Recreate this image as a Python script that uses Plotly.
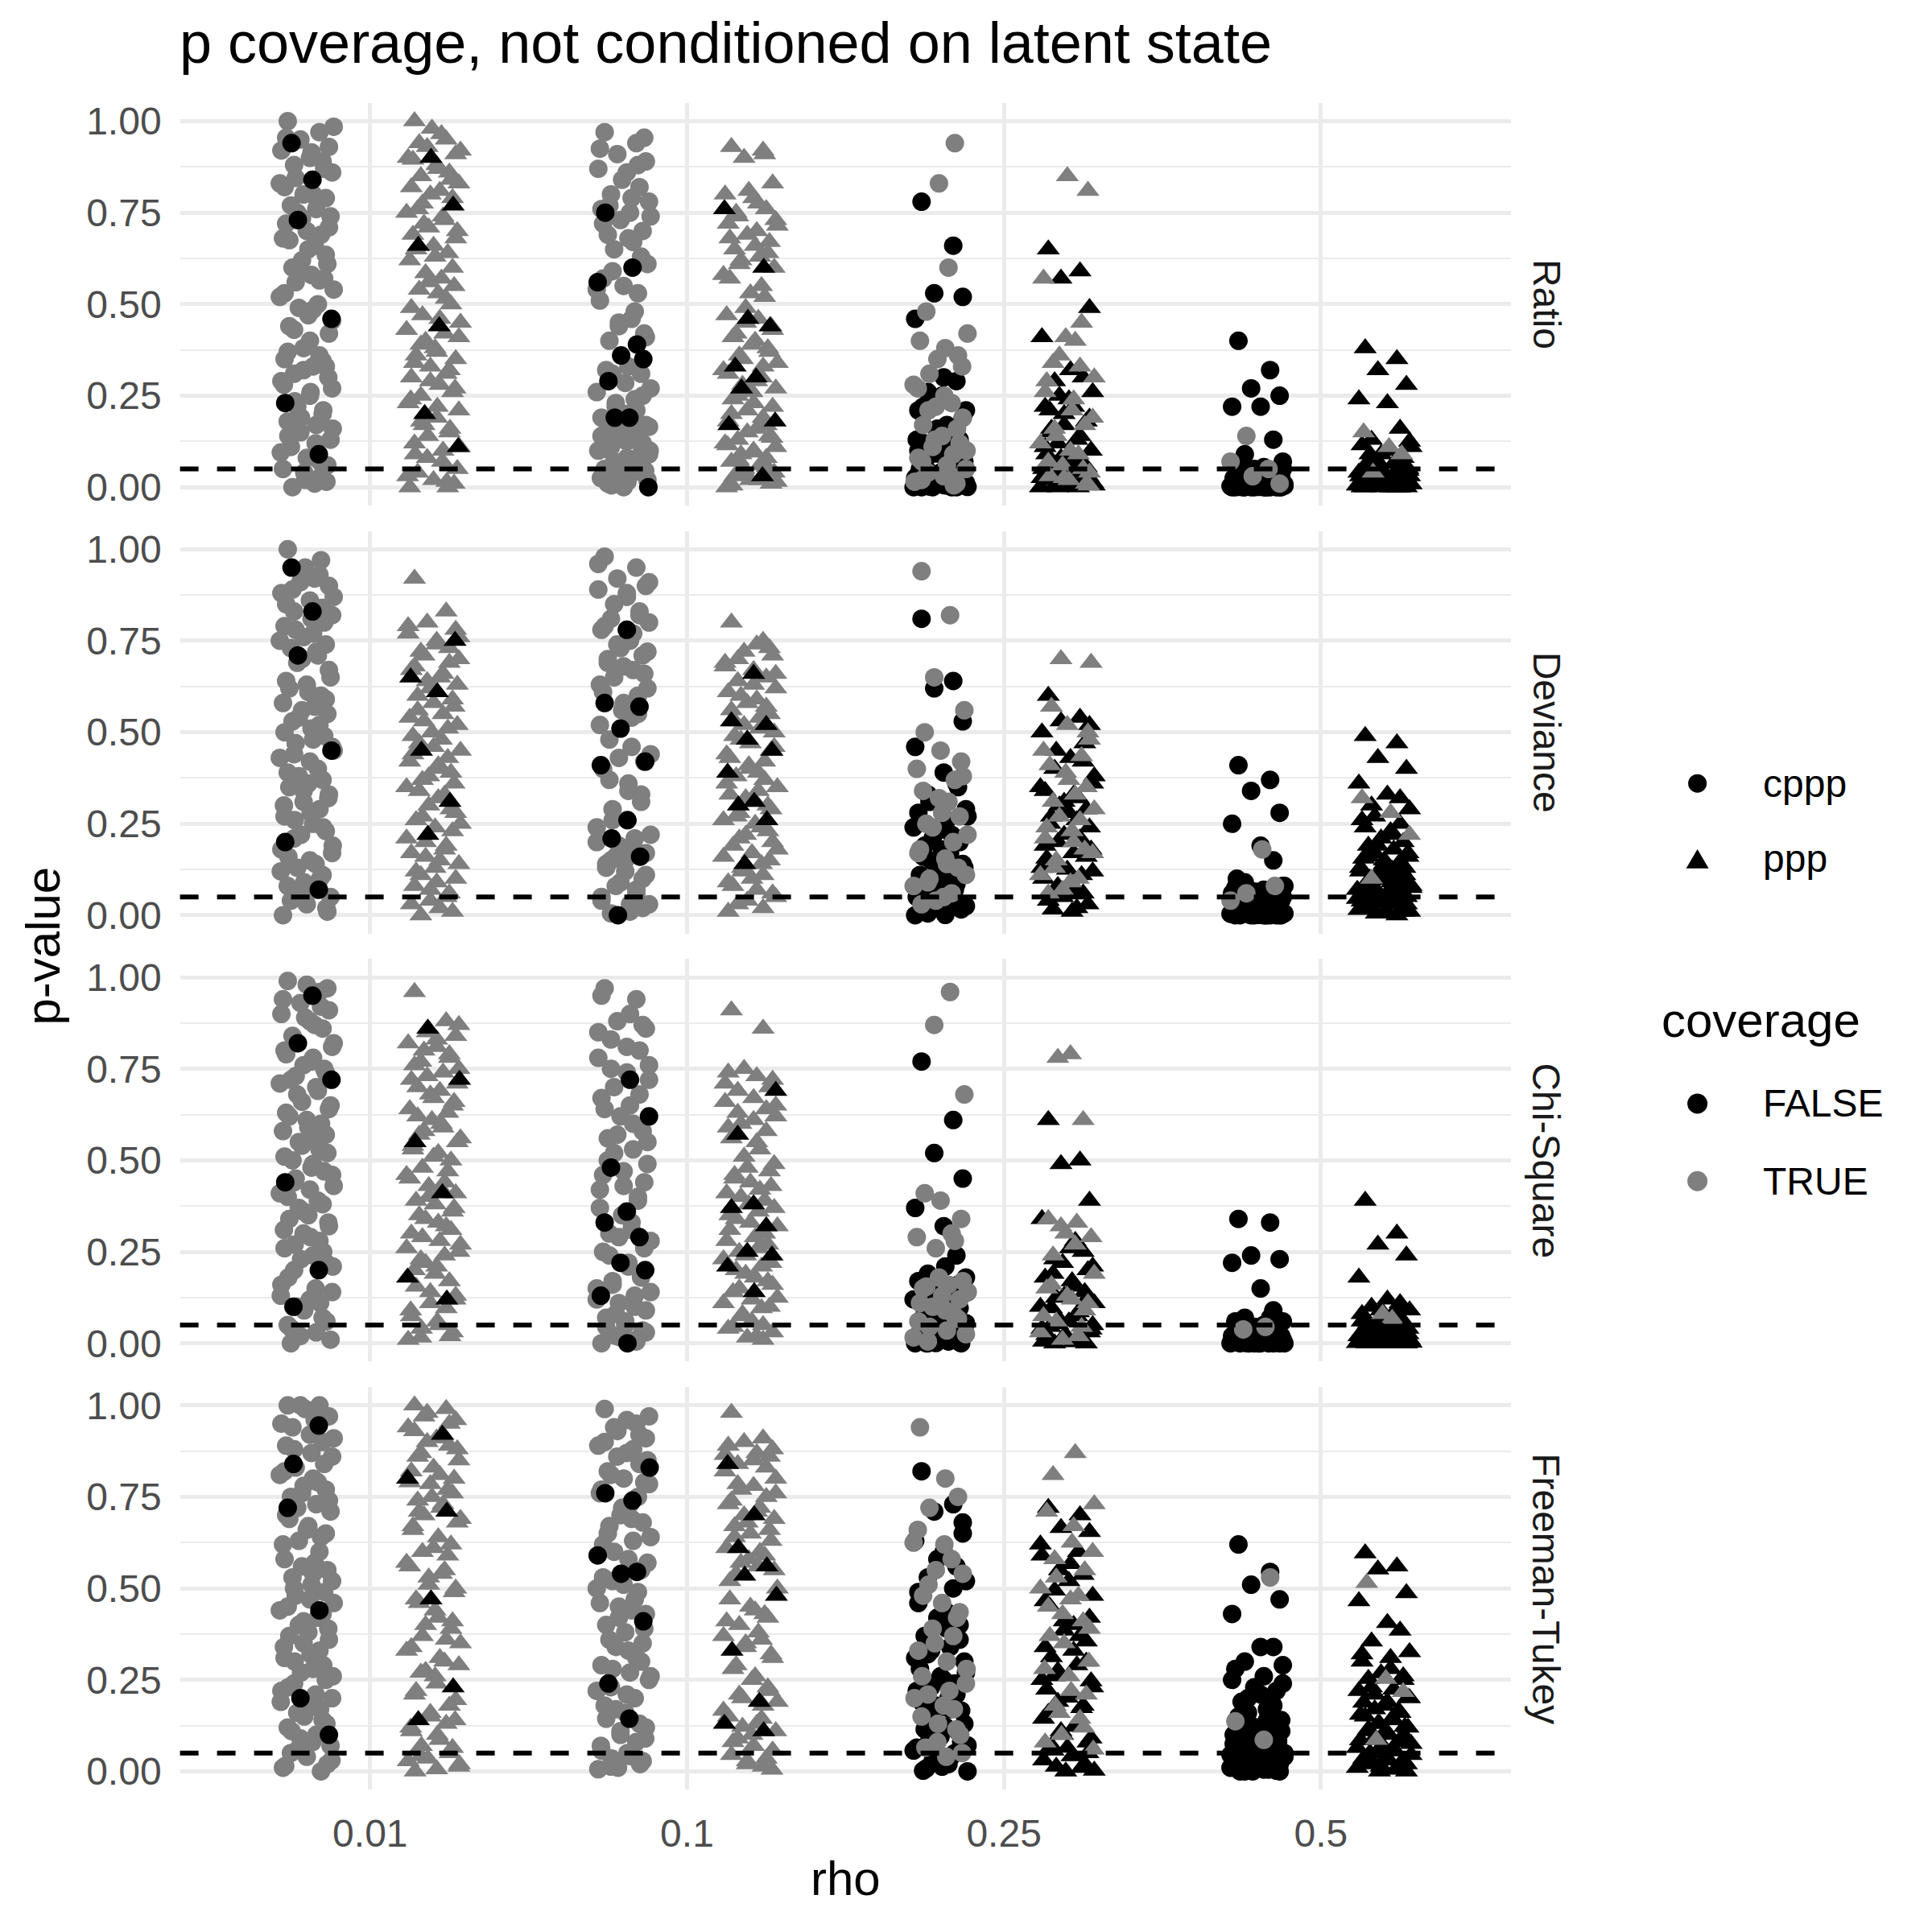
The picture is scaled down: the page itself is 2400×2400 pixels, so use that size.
import plotly.graph_objects as go

# ---------------- data ----------------
facets = ["Ratio", "Deviance", "Chi-Square", "Freeman-Tukey"]
rho_labels = ["0.01", "0.1", "0.25", "0.5"]
stat_types = ["cppp", "ppp"]
coverage_labels = ["FALSE", "TRUE"]
y_ticks = [0, 0.25, 0.5, 0.75, 1.0]
y_tick_text = ["0.00", "0.25", "0.50", "0.75", "1.00"]
y_minor = [0.125, 0.375, 0.625, 0.875]
threshold = 0.05

# jitter offsets (in category units) read as typical horizontal scatter
jitter = [-0.06, 0.04, -0.02, 0.07, -0.08, 0.01, 0.05, -0.04, 0.08, -0.07, 0.02, -0.01, 0.06, -0.05,
          0.03, -0.03, 0.075, -0.065, 0.0, 0.045, -0.075, 0.025, -0.015, 0.065, -0.045, 0.015, 0.055,
          -0.035, 0.085, -0.085, 0.035, -0.025, 0.005, -0.055, 0.07, -0.01, 0.04, -0.07, 0.02, 0.06,
          -0.04, -0.08, 0.08, 0.01, -0.03, 0.05, -0.06, 0.03, -0.02, 0.075, -0.05, 0.0, 0.065, -0.075,
          0.045, -0.005, 0.025, -0.045, 0.085, -0.065, 0.015, 0.055, -0.035, -0.085, 0.035, -0.015,
          0.07, -0.055, 0.005, 0.06, -0.025, 0.04, -0.07, 0.02, 0.08, -0.04, 0.01, -0.06, 0.05, -0.01,
          0.068, -0.072, 0.012, -0.038, 0.052, -0.018, 0.082, -0.058, 0.028, -0.082, 0.042, -0.008,
          0.062, -0.048, 0.018, -0.028, 0.078, -0.068, 0.038, -0.042]

# ---- Ratio ----
R1c_F = [0.94, 0.84, 0.73, 0.46, 0.23, 0.09]
R1c_T = [1.00, 0.97, 0.95, 0.93, 0.92, 0.90, 0.89, 0.88, 0.86, 0.82, 0.80, 0.80, 0.79, 0.77, 0.76, 0.75, 0.74,
         0.72, 0.70, 0.69, 0.68, 0.66, 0.62, 0.61, 0.60, 0.58, 0.57, 0.56, 0.54, 0.52, 0.50, 0.49, 0.47, 0.44,
         0.42, 0.38, 0.36, 0.35, 0.33, 0.33, 0.31, 0.29, 0.27, 0.25, 0.22, 0.20, 0.18, 0.17, 0.15, 0.13, 0.11,
         0.08, 0.06, 0.05, 0.03, 0.02, 0.01, 0.00,
         0.985, 0.955, 0.915, 0.87, 0.845, 0.83, 0.78, 0.735, 0.71, 0.675, 0.65, 0.635, 0.595, 0.565, 0.53,
         0.485, 0.455, 0.43, 0.40, 0.37, 0.345, 0.32, 0.30, 0.28, 0.26, 0.235, 0.21, 0.19, 0.16, 0.14, 0.12,
         0.095, 0.07, 0.04, 0.015]
R1p_F = [0.90, 0.77, 0.66, 0.44, 0.20, 0.11]
R1p_T = [1.00, 0.95, 0.93, 0.91, 0.90, 0.88, 0.86, 0.85, 0.83, 0.82, 0.81, 0.80, 0.79, 0.76, 0.74, 0.72, 0.70,
         0.69, 0.66, 0.64, 0.62, 0.57, 0.56, 0.55, 0.54, 0.53, 0.50, 0.47, 0.45, 0.43, 0.42, 0.40, 0.38, 0.36,
         0.35, 0.33, 0.31, 0.30, 0.28, 0.26, 0.25, 0.23, 0.21, 0.19, 0.17, 0.15, 0.12, 0.10, 0.08, 0.05, 0.04,
         0.02, 0.01, 0.00, 0.00,
         0.98, 0.965, 0.94, 0.92, 0.895, 0.87, 0.84, 0.775, 0.75, 0.73, 0.71, 0.68, 0.65, 0.63, 0.60, 0.585,
         0.515, 0.49, 0.46, 0.41, 0.39, 0.37, 0.34, 0.32, 0.29, 0.27, 0.24, 0.22, 0.18, 0.16, 0.14, 0.11,
         0.09, 0.07, 0.03, 0.015]
R2c_F = [0.75, 0.60, 0.56, 0.39, 0.36, 0.35, 0.29, 0.19, 0.19, 0.00]
R2c_T = [0.97, 0.94, 0.91, 0.89, 0.87, 0.86, 0.82, 0.80, 0.78, 0.76, 0.75, 0.73, 0.70, 0.69, 0.67, 0.65, 0.61,
         0.57, 0.55, 0.53, 0.51, 0.46, 0.44, 0.42, 0.40, 0.33, 0.31, 0.31, 0.27, 0.26, 0.24, 0.22, 0.20, 0.18,
         0.17, 0.16, 0.15, 0.14, 0.13, 0.12, 0.11, 0.10, 0.09, 0.08, 0.07, 0.06, 0.05, 0.04, 0.03, 0.02, 0.01,
         0.00,
         0.955, 0.925, 0.88, 0.84, 0.79, 0.77, 0.74, 0.72, 0.68, 0.63, 0.59, 0.54, 0.48, 0.45, 0.41, 0.32,
         0.285, 0.25, 0.23, 0.21, 0.19, 0.175, 0.165, 0.145, 0.125, 0.105, 0.085, 0.065, 0.045, 0.025, 0.015,
         0.005, 0.12, 0.15, 0.10]
R2p_F = [0.76, 0.60, 0.46, 0.44, 0.33, 0.30, 0.27, 0.18, 0.17, 0.03]
R2p_T = [0.93, 0.92, 0.90, 0.83, 0.80, 0.79, 0.76, 0.74, 0.73, 0.72, 0.70, 0.69, 0.67, 0.65, 0.63, 0.62, 0.60,
         0.57, 0.53, 0.52, 0.47, 0.46, 0.45, 0.44, 0.42, 0.40, 0.38, 0.36, 0.34, 0.32, 0.30, 0.28, 0.26, 0.24,
         0.22, 0.21, 0.19, 0.18, 0.16, 0.14, 0.13, 0.12, 0.11, 0.10, 0.09, 0.08, 0.07, 0.06, 0.05, 0.04, 0.03,
         0.02, 0.01, 0.00,
         0.91, 0.81, 0.775, 0.75, 0.715, 0.68, 0.66, 0.64, 0.61, 0.58, 0.55, 0.49, 0.43, 0.41, 0.39, 0.37,
         0.35, 0.33, 0.31, 0.29, 0.27, 0.25, 0.23, 0.20, 0.17, 0.15, 0.135, 0.115, 0.095, 0.075, 0.055, 0.035,
         0.015, 0.005, 0.02]
R3c_F = [0.78, 0.66, 0.53, 0.52, 0.46, 0.30, 0.29, 0.26, 0.21, 0.21, 0.17, 0.16, 0.13, 0.12, 0.11, 0.09, 0.07,
         0.05, 0.04, 0.035, 0.03, 0.02, 0.015, 0.01, 0.008, 0.005, 0.003, 0.002, 0.001, 0.0, 0.0, 0.0,
         0.25, 0.22, 0.19, 0.15, 0.14, 0.10, 0.08, 0.06, 0.045, 0.025, 0.012, 0.006, 0.004, 0.0, 0.0, 0.02,
         0.03, 0.05, 0.07, 0.09, 0.11, 0.13]
R3c_T = [0.94, 0.83, 0.60, 0.48, 0.42, 0.40, 0.38, 0.36, 0.31, 0.28, 0.23, 0.22, 0.19, 0.17, 0.14, 0.12, 0.11,
         0.09, 0.08, 0.06, 0.05, 0.04, 0.03, 0.02, 0.01,
         0.35, 0.33, 0.27, 0.25, 0.21, 0.16, 0.13, 0.10, 0.07, 0.035, 0.015, 0.005]
R3p_F = [0.65, 0.59, 0.57, 0.49, 0.41, 0.32, 0.30, 0.29, 0.26, 0.22, 0.22, 0.20, 0.18, 0.16, 0.13, 0.12, 0.10,
         0.09, 0.07, 0.06, 0.05, 0.04, 0.035, 0.03, 0.02, 0.015, 0.01, 0.01, 0.005, 0.0, 0.0,
         0.25, 0.24, 0.21, 0.19, 0.17, 0.14, 0.11, 0.08, 0.055, 0.045, 0.025, 0.012, 0.003, 0.0, 0.02, 0.04,
         0.06, 0.08, 0.10, 0.15]
R3p_T = [0.85, 0.81, 0.57, 0.45, 0.41, 0.40, 0.34, 0.30, 0.29, 0.21, 0.17, 0.14, 0.12, 0.09, 0.06, 0.04, 0.03,
         0.02, 0.01,
         0.36, 0.33, 0.26, 0.24, 0.19, 0.16, 0.10, 0.07, 0.05, 0.025, 0.005]
R4c_F = [0.40, 0.32, 0.27, 0.25, 0.22, 0.22, 0.13, 0.09, 0.07, 0.06, 0.055, 0.05, 0.045, 0.04, 0.035, 0.03, 0.03,
         0.025, 0.02, 0.02, 0.015, 0.015, 0.012, 0.01, 0.01, 0.008, 0.006, 0.005, 0.004, 0.003, 0.002, 0.002,
         0.001, 0.001, 0.0, 0.0, 0.0, 0.0, 0.0, 0.0, 0.0, 0.0,
         0.05, 0.04, 0.03, 0.02, 0.01, 0.0, 0.0, 0.0, 0.06, 0.045, 0.035, 0.025, 0.015, 0.005, 0.0, 0.0,
         0.008, 0.003, 0.02, 0.03]
R4c_T = [0.14, 0.07, 0.05, 0.03, 0.01]
R4p_F = [0.38, 0.35, 0.32, 0.28, 0.24, 0.23, 0.16, 0.13, 0.125, 0.115, 0.10, 0.09, 0.08, 0.07, 0.065, 0.06, 0.05,
         0.045, 0.04, 0.035, 0.03, 0.03, 0.025, 0.02, 0.02, 0.015, 0.01, 0.01, 0.008, 0.005, 0.004, 0.003, 0.002,
         0.001, 0.0, 0.0, 0.0, 0.0, 0.0,
         0.06, 0.05, 0.04, 0.03, 0.02, 0.01, 0.0, 0.0, 0.0, 0.07, 0.045, 0.035, 0.025, 0.015, 0.005, 0.0,
         0.012, 0.003, 0.09, 0.11]
R4p_T = [0.15, 0.11, 0.09, 0.04]

# ---- Deviance ----
D1c_F = [0.95, 0.83, 0.71, 0.45, 0.20, 0.07]
D1c_T = [1.00, 0.93, 0.91, 0.90, 0.88, 0.86, 0.84, 0.83, 0.82, 0.79, 0.77, 0.76, 0.74, 0.73, 0.72, 0.69, 0.65,
         0.64, 0.63, 0.60, 0.58, 0.57, 0.56, 0.55, 0.53, 0.51, 0.49, 0.47, 0.45, 0.43, 0.40, 0.38, 0.36, 0.35,
         0.33, 0.31, 0.29, 0.27, 0.25, 0.23, 0.21, 0.18, 0.17, 0.15, 0.13, 0.11, 0.08, 0.07, 0.06, 0.05, 0.04,
         0.03, 0.01, 0.00,
         0.97, 0.95, 0.92, 0.89, 0.87, 0.85, 0.81, 0.80, 0.78, 0.75, 0.71, 0.70, 0.67, 0.62, 0.61, 0.59, 0.54,
         0.52, 0.50, 0.48, 0.46, 0.44, 0.42, 0.39, 0.37, 0.34, 0.32, 0.30, 0.28, 0.26, 0.24, 0.22, 0.19, 0.16,
         0.14, 0.12, 0.10, 0.09, 0.02]
D1p_F = [0.75, 0.65, 0.61, 0.45, 0.31, 0.22]
D1p_T = [0.92, 0.83, 0.80, 0.78, 0.77, 0.74, 0.73, 0.72, 0.70, 0.67, 0.65, 0.62, 0.59, 0.56, 0.55, 0.53, 0.52,
         0.49, 0.46, 0.43, 0.42, 0.40, 0.38, 0.36, 0.34, 0.32, 0.29, 0.27, 0.25, 0.21, 0.18, 0.16, 0.13, 0.12,
         0.10, 0.07, 0.05, 0.03, 0.02, 0.01, 0.00,
         0.79, 0.76, 0.75, 0.71, 0.69, 0.68, 0.66, 0.64, 0.63, 0.60, 0.58, 0.57, 0.54, 0.51, 0.50, 0.48, 0.47,
         0.45, 0.44, 0.41, 0.39, 0.37, 0.35, 0.33, 0.30, 0.28, 0.26, 0.24, 0.23, 0.20, 0.19, 0.17, 0.15, 0.14,
         0.11, 0.09, 0.08, 0.06, 0.04]
D2c_F = [0.78, 0.58, 0.57, 0.51, 0.42, 0.41, 0.26, 0.21, 0.16, 0.00]
D2c_T = [0.98, 0.95, 0.92, 0.90, 0.89, 0.87, 0.83, 0.81, 0.80, 0.78, 0.75, 0.73, 0.71, 0.69, 0.67, 0.65, 0.62,
         0.61, 0.58, 0.55, 0.52, 0.46, 0.43, 0.42, 0.37, 0.34, 0.31, 0.26, 0.22, 0.20, 0.18, 0.16, 0.15, 0.13,
         0.11, 0.09, 0.07, 0.05, 0.03, 0.02, 0.005,
         0.96, 0.91, 0.88, 0.85, 0.82, 0.79, 0.77, 0.74, 0.72, 0.70, 0.68, 0.66, 0.63, 0.60, 0.56, 0.54, 0.48,
         0.44, 0.40, 0.36, 0.33, 0.29, 0.24, 0.21, 0.19, 0.17, 0.14, 0.12, 0.10, 0.08, 0.06, 0.04, 0.01, 0.03,
         0.15]
D2p_F = [0.66, 0.53, 0.52, 0.48, 0.45, 0.39, 0.31, 0.30, 0.26, 0.14]
D2p_T = [0.80, 0.75, 0.72, 0.71, 0.69, 0.67, 0.65, 0.64, 0.62, 0.61, 0.59, 0.58, 0.55, 0.53, 0.51, 0.48, 0.46,
         0.43, 0.40, 0.37, 0.36, 0.34, 0.32, 0.29, 0.27, 0.25, 0.23, 0.21, 0.18, 0.16, 0.14, 0.12, 0.10, 0.08,
         0.06, 0.04, 0.02, 0.01,
         0.74, 0.73, 0.70, 0.68, 0.66, 0.63, 0.60, 0.57, 0.56, 0.54, 0.52, 0.50, 0.49, 0.47, 0.45, 0.44, 0.42,
         0.41, 0.39, 0.38, 0.35, 0.33, 0.31, 0.30, 0.28, 0.26, 0.24, 0.22, 0.20, 0.19, 0.17, 0.15, 0.13, 0.11,
         0.09, 0.07, 0.05, 0.03]
D3c_F = [0.81, 0.64, 0.62, 0.53, 0.46, 0.39, 0.36, 0.33, 0.29, 0.28, 0.26, 0.23, 0.20, 0.19, 0.17, 0.15, 0.13,
         0.11, 0.08, 0.07, 0.05, 0.04, 0.02, 0.016, 0.01, 0.001,
         0.35, 0.31, 0.27, 0.24, 0.22, 0.21, 0.18, 0.16, 0.14, 0.12, 0.10, 0.09, 0.06, 0.03, 0.005, 0.0, 0.025,
         0.045, 0.065, 0.085]
D3c_T = [0.94, 0.82, 0.65, 0.56, 0.50, 0.45, 0.42, 0.40, 0.37, 0.32, 0.31, 0.25, 0.22, 0.18, 0.155, 0.13, 0.10,
         0.08, 0.06, 0.04,
         0.38, 0.34, 0.28, 0.27, 0.24, 0.20, 0.17, 0.14, 0.11, 0.09, 0.05, 0.03]
D3p_F = [0.60, 0.54, 0.53, 0.52, 0.50, 0.43, 0.42, 0.40, 0.36, 0.34, 0.33, 0.31, 0.29, 0.27, 0.26, 0.20, 0.18,
         0.155, 0.125, 0.11, 0.10, 0.07, 0.05, 0.03, 0.016, 0.01,
         0.47, 0.45, 0.38, 0.35, 0.32, 0.30, 0.28, 0.25, 0.24, 0.22, 0.21, 0.19, 0.17, 0.16, 0.14, 0.13, 0.12,
         0.09, 0.08, 0.06, 0.04, 0.02]
D3p_T = [0.70, 0.69, 0.57, 0.52, 0.50, 0.45, 0.435, 0.39, 0.33, 0.31, 0.29, 0.24, 0.23, 0.18, 0.15, 0.11, 0.10,
         0.07,
         0.48, 0.41, 0.37, 0.35, 0.27, 0.26, 0.21, 0.20, 0.17, 0.13, 0.09, 0.06]
D4c_F = [0.41, 0.37, 0.34, 0.28, 0.25, 0.19, 0.15, 0.09, 0.08, 0.075, 0.07, 0.065, 0.06, 0.055, 0.05, 0.045,
         0.04, 0.035, 0.03, 0.03, 0.025, 0.02, 0.02, 0.015, 0.012, 0.01, 0.008, 0.006, 0.005, 0.004, 0.003,
         0.002, 0.001, 0.0, 0.0, 0.0, 0.0, 0.0, 0.0, 0.0,
         0.07, 0.06, 0.05, 0.04, 0.03, 0.02, 0.01, 0.0, 0.0, 0.0, 0.065, 0.045, 0.035, 0.025, 0.015, 0.005,
         0.0, 0.012, 0.08, 0.10]
D4c_T = [0.18, 0.08, 0.06, 0.04]
D4p_F = [0.49, 0.47, 0.43, 0.40, 0.36, 0.33, 0.32, 0.30, 0.29, 0.26, 0.23, 0.21, 0.20, 0.19, 0.18, 0.17, 0.16,
         0.155, 0.15, 0.14, 0.13, 0.125, 0.12, 0.11, 0.10, 0.096, 0.09, 0.08, 0.075, 0.07, 0.067, 0.06, 0.055,
         0.052, 0.05, 0.045, 0.04, 0.038, 0.03, 0.023, 0.02, 0.015, 0.01, 0.005,
         0.27, 0.25, 0.24, 0.22, 0.19, 0.17, 0.16, 0.14, 0.13, 0.12, 0.11, 0.10, 0.09, 0.085, 0.08, 0.07,
         0.065, 0.06, 0.05, 0.045, 0.04, 0.035, 0.03, 0.02, 0.015, 0.01, 0.005, 0.0]
D4p_T = [0.32, 0.28, 0.22, 0.10]

# ---- Chi-Square ----
C1c_F = [0.95, 0.82, 0.72, 0.44, 0.20, 0.10]
C1c_T = [0.99, 0.96, 0.93, 0.91, 0.90, 0.88, 0.86, 0.83, 0.81, 0.80, 0.78, 0.76, 0.74, 0.72, 0.70, 0.68, 0.65,
         0.63, 0.61, 0.60, 0.58, 0.56, 0.54, 0.52, 0.50, 0.48, 0.47, 0.45, 0.43, 0.41, 0.39, 0.37, 0.35, 0.34,
         0.32, 0.30, 0.28, 0.26, 0.24, 0.22, 0.20, 0.16, 0.14, 0.12, 0.10, 0.07, 0.05, 0.03, 0.02, 0.01, 0.00,
         0.98, 0.97, 0.94, 0.92, 0.89, 0.87, 0.84, 0.82, 0.79, 0.77, 0.75, 0.73, 0.71, 0.69, 0.66, 0.64, 0.62,
         0.59, 0.57, 0.55, 0.53, 0.51, 0.49, 0.46, 0.44, 0.42, 0.40, 0.38, 0.36, 0.33, 0.31, 0.29, 0.27, 0.25,
         0.23, 0.21, 0.18, 0.15, 0.13, 0.11, 0.09, 0.06, 0.04]
C1p_F = [0.86, 0.72, 0.55, 0.41, 0.18, 0.12]
C1p_T = [0.96, 0.88, 0.85, 0.84, 0.82, 0.81, 0.78, 0.77, 0.75, 0.72, 0.69, 0.68, 0.65, 0.62, 0.59, 0.58, 0.55,
         0.53, 0.51, 0.47, 0.45, 0.42, 0.40, 0.37, 0.35, 0.33, 0.31, 0.29, 0.27, 0.26, 0.24, 0.22, 0.19, 0.155,
         0.13, 0.11, 0.096, 0.074, 0.05, 0.03, 0.016, 0.01,
         0.87, 0.83, 0.80, 0.79, 0.76, 0.74, 0.73, 0.71, 0.70, 0.67, 0.66, 0.64, 0.63, 0.61, 0.60, 0.57, 0.56,
         0.54, 0.52, 0.50, 0.48, 0.46, 0.44, 0.43, 0.41, 0.39, 0.38, 0.36, 0.34, 0.32, 0.30, 0.28, 0.25, 0.23,
         0.21, 0.20, 0.17, 0.14, 0.12, 0.09, 0.06, 0.04, 0.02]
C2c_F = [0.72, 0.62, 0.48, 0.36, 0.33, 0.29, 0.22, 0.20, 0.13, 0.00]
C2c_T = [0.97, 0.94, 0.88, 0.86, 0.85, 0.81, 0.80, 0.75, 0.72, 0.67, 0.65, 0.62, 0.58, 0.56, 0.53, 0.52, 0.49,
         0.46, 0.43, 0.40, 0.37, 0.31, 0.29, 0.26, 0.24, 0.21, 0.18, 0.16, 0.14, 0.12, 0.10, 0.08, 0.06, 0.045,
         0.03, 0.016, 0.005,
         0.95, 0.90, 0.87, 0.83, 0.78, 0.76, 0.74, 0.70, 0.68, 0.64, 0.60, 0.57, 0.55, 0.50, 0.47, 0.44, 0.42,
         0.39, 0.35, 0.33, 0.30, 0.28, 0.25, 0.22, 0.19, 0.17, 0.15, 0.13, 0.11, 0.09, 0.07, 0.05, 0.035, 0.02,
         0.01, 0.0]
C2p_F = [0.69, 0.57, 0.38, 0.37, 0.32, 0.25, 0.24, 0.21, 0.14]
C2p_T = [0.91, 0.86, 0.75, 0.72, 0.71, 0.67, 0.64, 0.63, 0.62, 0.59, 0.55, 0.48, 0.47, 0.45, 0.42, 0.40, 0.37,
         0.35, 0.33, 0.30, 0.28, 0.26, 0.24, 0.22, 0.20, 0.18, 0.17, 0.15, 0.125, 0.11, 0.096, 0.074, 0.06,
         0.045, 0.03, 0.016, 0.01,
         0.74, 0.73, 0.70, 0.69, 0.66, 0.65, 0.61, 0.60, 0.58, 0.56, 0.53, 0.51, 0.49, 0.46, 0.44, 0.43, 0.41,
         0.39, 0.38, 0.36, 0.34, 0.32, 0.31, 0.29, 0.27, 0.25, 0.23, 0.21, 0.19, 0.16, 0.14, 0.12, 0.10, 0.08,
         0.05, 0.04, 0.02]
C3c_F = [0.77, 0.61, 0.52, 0.45, 0.37, 0.32, 0.24, 0.19, 0.18, 0.17, 0.125, 0.11, 0.096, 0.08, 0.067, 0.052,
         0.038, 0.03, 0.023, 0.016, 0.01, 0.005, 0.001, 0.0, 0.0,
         0.21, 0.16, 0.15, 0.14, 0.12, 0.10, 0.09, 0.07, 0.06, 0.045, 0.035, 0.025, 0.015, 0.008, 0.003, 0.0,
         0.0, 0.055, 0.075, 0.11, 0.13, 0.02]
C3c_T = [0.96, 0.87, 0.68, 0.41, 0.39, 0.34, 0.29, 0.28, 0.18, 0.16, 0.155, 0.14, 0.11, 0.09, 0.067, 0.045, 0.016,
         0.30, 0.26, 0.17, 0.15, 0.13, 0.12, 0.10, 0.08, 0.06, 0.035, 0.025, 0.005]
C3p_F = [0.61, 0.50, 0.49, 0.39, 0.34, 0.26, 0.25, 0.23, 0.21, 0.18, 0.155, 0.13, 0.12, 0.096, 0.074, 0.052,
         0.038, 0.023, 0.016, 0.01, 0.005,
         0.28, 0.22, 0.20, 0.19, 0.17, 0.14, 0.125, 0.11, 0.10, 0.085, 0.065, 0.06, 0.045, 0.03, 0.02, 0.012,
         0.008, 0.003, 0.0, 0.0, 0.04, 0.05]
C3p_T = [0.79, 0.78, 0.61, 0.34, 0.33, 0.32, 0.29, 0.16, 0.13, 0.11, 0.074, 0.045,
         0.30, 0.27, 0.24, 0.19, 0.15, 0.12, 0.09, 0.06, 0.03, 0.02, 0.01]
C4c_F = [0.34, 0.33, 0.24, 0.23, 0.22, 0.15, 0.09, 0.07, 0.06, 0.055, 0.05, 0.045, 0.04, 0.035, 0.03, 0.025, 0.02,
         0.02, 0.015, 0.012, 0.01, 0.008, 0.006, 0.005, 0.004, 0.003, 0.002, 0.001, 0.0, 0.0, 0.0, 0.0, 0.0,
         0.0, 0.0, 0.0,
         0.07, 0.06, 0.05, 0.04, 0.03, 0.02, 0.01, 0.0, 0.0, 0.0, 0.045, 0.035, 0.025, 0.015, 0.005, 0.0,
         0.012, 0.003, 0.055, 0.02]
C4c_T = [0.045, 0.038]
C4p_F = [0.39, 0.30, 0.27, 0.24, 0.18, 0.12, 0.11, 0.10, 0.09, 0.08, 0.07, 0.065, 0.06, 0.055, 0.05, 0.045, 0.04,
         0.035, 0.03, 0.025, 0.02, 0.02, 0.015, 0.01, 0.01, 0.008, 0.005, 0.003, 0.002, 0.001, 0.0, 0.0, 0.0,
         0.0, 0.0,
         0.09, 0.075, 0.06, 0.05, 0.04, 0.03, 0.02, 0.01, 0.0, 0.0, 0.0, 0.065, 0.045, 0.035, 0.025, 0.015,
         0.005, 0.0, 0.012, 0.10]
C4p_T = [0.08, 0.067]

# ---- Freeman-Tukey ----
F1c_F = [0.945, 0.84, 0.72, 0.44, 0.20, 0.10]
F1c_T = [1.00, 1.00, 1.00, 0.97, 0.95, 0.92, 0.90, 0.88, 0.86, 0.82, 0.80, 0.78, 0.77, 0.75, 0.73, 0.72, 0.71,
         0.70, 0.66, 0.64, 0.62, 0.57, 0.56, 0.55, 0.53, 0.51, 0.49, 0.48, 0.46, 0.44, 0.42, 0.40, 0.38, 0.37,
         0.36, 0.35, 0.33, 0.31, 0.28, 0.25, 0.24, 0.22, 0.20, 0.18, 0.16, 0.14, 0.12, 0.10, 0.09, 0.07, 0.05,
         0.04, 0.02, 0.01, 0.00,
         0.99, 0.96, 0.94, 0.91, 0.89, 0.87, 0.84, 0.83, 0.81, 0.79, 0.76, 0.74, 0.69, 0.67, 0.65, 0.63, 0.60,
         0.58, 0.54, 0.52, 0.50, 0.47, 0.45, 0.43, 0.41, 0.39, 0.34, 0.32, 0.30, 0.29, 0.27, 0.26, 0.23, 0.21,
         0.19, 0.17, 0.15, 0.13, 0.11, 0.08, 0.06, 0.03, 0.015]
F1p_F = [0.92, 0.80, 0.71, 0.47, 0.23, 0.14]
F1p_T = [1.00, 0.99, 0.98, 0.96, 0.94, 0.91, 0.89, 0.87, 0.85, 0.82, 0.81, 0.785, 0.76, 0.74, 0.73, 0.70, 0.68,
         0.66, 0.61, 0.59, 0.56, 0.54, 0.51, 0.49, 0.46, 0.42, 0.39, 0.37, 0.35, 0.33, 0.30, 0.275, 0.26, 0.22,
         0.195, 0.15, 0.13, 0.11, 0.086, 0.064, 0.042, 0.028, 0.013, 0.006,
         0.97, 0.95, 0.93, 0.92, 0.90, 0.88, 0.86, 0.83, 0.80, 0.79, 0.77, 0.75, 0.72, 0.71, 0.69, 0.67, 0.64,
         0.62, 0.60, 0.57, 0.55, 0.53, 0.50, 0.47, 0.44, 0.41, 0.40, 0.36, 0.34, 0.31, 0.29, 0.27, 0.24, 0.21,
         0.18, 0.16, 0.14, 0.12, 0.10, 0.07, 0.05, 0.035, 0.02, 0.0]
F2c_F = [0.83, 0.76, 0.74, 0.59, 0.545, 0.54, 0.41, 0.24, 0.144]
F2c_T = [0.99, 0.95, 0.93, 0.91, 0.89, 0.87, 0.84, 0.81, 0.785, 0.77, 0.73, 0.70, 0.68, 0.65, 0.63, 0.60, 0.57,
         0.53, 0.51, 0.49, 0.46, 0.44, 0.42, 0.39, 0.36, 0.33, 0.30, 0.28, 0.26, 0.22, 0.20, 0.17, 0.16, 0.144,
         0.12, 0.10, 0.08, 0.057, 0.042, 0.028, 0.013, 0.006,
         0.97, 0.96, 0.94, 0.92, 0.90, 0.88, 0.86, 0.85, 0.82, 0.80, 0.79, 0.76, 0.75, 0.72, 0.69, 0.67, 0.64,
         0.62, 0.58, 0.55, 0.52, 0.50, 0.47, 0.45, 0.43, 0.40, 0.38, 0.35, 0.34, 0.31, 0.29, 0.27, 0.25, 0.23,
         0.21, 0.18, 0.13, 0.11, 0.09, 0.07, 0.05, 0.035, 0.02, 0.01]
F2p_F = [0.84, 0.70, 0.61, 0.56, 0.535, 0.48, 0.33, 0.19, 0.13, 0.11]
F2p_T = [0.98, 0.91, 0.90, 0.88, 0.865, 0.85, 0.83, 0.785, 0.76, 0.73, 0.71, 0.68, 0.66, 0.64, 0.60, 0.57, 0.55,
         0.52, 0.45, 0.43, 0.41, 0.38, 0.35, 0.32, 0.29, 0.26, 0.23, 0.21, 0.19, 0.166, 0.144, 0.122, 0.10, 0.08,
         0.057, 0.028, 0.013,
         0.89, 0.87, 0.86, 0.84, 0.82, 0.80, 0.78, 0.77, 0.75, 0.74, 0.72, 0.70, 0.69, 0.67, 0.65, 0.63, 0.61,
         0.59, 0.58, 0.56, 0.54, 0.50, 0.47, 0.44, 0.42, 0.40, 0.37, 0.36, 0.34, 0.31, 0.28, 0.25, 0.22, 0.20,
         0.18, 0.15, 0.13, 0.11, 0.09, 0.07, 0.045, 0.035, 0.02, 0.005]
F3c_F = [0.82, 0.73, 0.71, 0.68, 0.63, 0.60, 0.56, 0.53, 0.52, 0.49, 0.435, 0.42, 0.40, 0.37, 0.34, 0.33, 0.30,
         0.28, 0.26, 0.24, 0.22, 0.20, 0.18, 0.166, 0.144, 0.122, 0.108, 0.086, 0.071, 0.057, 0.042, 0.028,
         0.013, 0.002,
         0.65, 0.58, 0.50, 0.46, 0.39, 0.36, 0.32, 0.31, 0.27, 0.25, 0.23, 0.21, 0.19, 0.17, 0.155, 0.13,
         0.115, 0.095, 0.08, 0.065, 0.05, 0.035, 0.02, 0.008, 0.0]
F3c_T = [0.94, 0.80, 0.75, 0.72, 0.625, 0.58, 0.55, 0.54, 0.48, 0.46, 0.435, 0.39, 0.37, 0.33, 0.30, 0.24, 0.21,
         0.18, 0.15, 0.115, 0.08, 0.05,
         0.66, 0.62, 0.51, 0.42, 0.35, 0.28, 0.26, 0.22, 0.20, 0.17, 0.13, 0.10, 0.065, 0.04]
F3p_F = [0.72, 0.70, 0.665, 0.654, 0.59, 0.567, 0.537, 0.494, 0.48, 0.465, 0.40, 0.385, 0.355, 0.312, 0.29,
         0.275, 0.246, 0.224, 0.202, 0.173, 0.144, 0.122, 0.10, 0.079, 0.057, 0.042, 0.02, 0.013, 0.002,
         0.62, 0.60, 0.55, 0.52, 0.45, 0.42, 0.41, 0.37, 0.34, 0.33, 0.30, 0.26, 0.25, 0.23, 0.21, 0.19, 0.18,
         0.16, 0.13, 0.11, 0.09, 0.07, 0.065, 0.05, 0.03, 0.01, 0.0]
F3p_T = [0.87, 0.81, 0.73, 0.71, 0.625, 0.55, 0.53, 0.50, 0.48, 0.43, 0.39, 0.37, 0.26, 0.21, 0.16, 0.144, 0.079,
         0.67, 0.60, 0.58, 0.47, 0.45, 0.41, 0.35, 0.30, 0.28, 0.22, 0.18, 0.12, 0.10, 0.06]
F4c_F = [0.62, 0.545, 0.51, 0.47, 0.43, 0.34, 0.34, 0.30, 0.29, 0.28, 0.26, 0.23, 0.22, 0.19, 0.17, 0.16, 0.14,
         0.13, 0.12, 0.11, 0.10, 0.09, 0.086, 0.08, 0.071, 0.065, 0.06, 0.057, 0.05, 0.045, 0.042, 0.035, 0.03,
         0.028, 0.02, 0.015, 0.013, 0.01, 0.005, 0.002, 0.0,
         0.25, 0.24, 0.21, 0.20, 0.18, 0.15, 0.14, 0.125, 0.11, 0.10, 0.095, 0.085, 0.075, 0.07, 0.06, 0.055,
         0.045, 0.04, 0.03, 0.025, 0.02, 0.015, 0.01, 0.005, 0.0, 0.0, 0.0, 0.035, 0.065, 0.09]
F4c_T = [0.53, 0.137, 0.086]
F4p_F = [0.596, 0.56, 0.552, 0.487, 0.465, 0.406, 0.385, 0.355, 0.326, 0.32, 0.31, 0.268, 0.26, 0.253, 0.224,
         0.21, 0.202, 0.188, 0.18, 0.166, 0.155, 0.144, 0.13, 0.122, 0.11, 0.10, 0.09, 0.086, 0.075, 0.064,
         0.055, 0.05, 0.04, 0.028, 0.02, 0.013, 0.006,
         0.30, 0.28, 0.25, 0.23, 0.22, 0.20, 0.19, 0.17, 0.16, 0.15, 0.14, 0.13, 0.12, 0.115, 0.105, 0.095,
         0.085, 0.08, 0.07, 0.06, 0.05, 0.045, 0.035, 0.03, 0.025, 0.02, 0.01, 0.005, 0.0, 0.0]
F4p_T = [0.515, 0.253, 0.217, 0.086]

# table: facet -> stat type -> list over rho of (FALSE values, TRUE values)
table = {
    "Ratio": {"cppp": [(R1c_F, R1c_T), (R2c_F, R2c_T), (R3c_F, R3c_T), (R4c_F, R4c_T)],
              "ppp": [(R1p_F, R1p_T), (R2p_F, R2p_T), (R3p_F, R3p_T), (R4p_F, R4p_T)]},
    "Deviance": {"cppp": [(D1c_F, D1c_T), (D2c_F, D2c_T), (D3c_F, D3c_T), (D4c_F, D4c_T)],
                 "ppp": [(D1p_F, D1p_T), (D2p_F, D2p_T), (D3p_F, D3p_T), (D4p_F, D4p_T)]},
    "Chi-Square": {"cppp": [(C1c_F, C1c_T), (C2c_F, C2c_T), (C3c_F, C3c_T), (C4c_F, C4c_T)],
                   "ppp": [(C1p_F, C1p_T), (C2p_F, C2p_T), (C3p_F, C3p_T), (C4p_F, C4p_T)]},
    "Freeman-Tukey": {"cppp": [(F1c_F, F1c_T), (F2c_F, F2c_T), (F3c_F, F3c_T), (F4c_F, F4c_T)],
                      "ppp": [(F1p_F, F1p_T), (F2p_F, F2p_T), (F3p_F, F3p_T), (F4p_F, F4p_T)]},
}

# ---------------- styling ----------------
W = H = 2400
FONT = "Liberation Sans, Arial, sans-serif"
COL = {"FALSE": "#000000", "TRUE": "#7f7f7f"}
SYMBOL = {"cppp": "circle", "ppp": "triangle-up"}
MSIZE = {"cppp": 23, "ppp": 25}
DODGE = {"cppp": -0.2, "ppp": 0.2}
GRID = "#ebebeb"


def px(x):
    return x / W


def py(y):
    return 1 - y / H


panel_top = [125.2, 658.5, 1191.8, 1725.1]
panel_bot = [626.8, 1160.1, 1693.4, 2226.7]
x_dom = [px(223.6), px(1877)]

fig = go.Figure()

for k, facet in enumerate(facets):
    sfx = "" if k == 0 else str(k + 1)
    for st in stat_types:
        xs, ys, cs = [], [], []
        for ri, (fv, tv) in enumerate(table[facet][st]):
            parts = [(tv, "TRUE"), (fv, "FALSE")] if len(tv) >= len(fv) else [(fv, "FALSE"), (tv, "TRUE")]
            i = 0
            for vals, cov in parts:
                for v in vals:
                    xs.append(ri + 1 + DODGE[st] + jitter[i % len(jitter)])
                    ys.append(v)
                    cs.append(COL[cov])
                    i += 1
        fig.add_trace(go.Scatter(
            x=xs, y=ys, mode="markers", xaxis="x" + sfx, yaxis="y" + sfx,
            marker=dict(symbol=SYMBOL[st], size=MSIZE[st], color=cs, line=dict(width=0)),
            showlegend=False, hoverinfo="skip"))

layout = dict(
    width=W, height=H, margin=dict(l=0, r=0, t=0, b=0),
    paper_bgcolor="white", plot_bgcolor="white",
    font=dict(family=FONT, color="#000000"),
    showlegend=False,
)

shapes = []
annotations = []
for k, facet in enumerate(facets):
    sfx = "" if k == 0 else str(k + 1)
    layout["xaxis" + sfx] = dict(
        domain=x_dom, anchor="y" + sfx, range=[0.4, 4.6],
        tickmode="array", tickvals=[1, 2, 3, 4], ticktext=rho_labels,
        showticklabels=(k == 3), ticks="", ticklabelstandoff=22,
        tickfont=dict(family=FONT, size=48, color="#4d4d4d"),
        showgrid=True, gridcolor=GRID, gridwidth=4.5, zeroline=False, showline=False)
    layout["yaxis" + sfx] = dict(
        domain=[py(panel_bot[k]), py(panel_top[k])], anchor="x" + sfx, range=[-0.05, 1.05],
        tickmode="array", tickvals=y_ticks, ticktext=y_tick_text, ticks="", ticklabelstandoff=22,
        tickfont=dict(family=FONT, size=48, color="#4d4d4d"),
        showgrid=True, gridcolor=GRID, gridwidth=4.5, zeroline=False, showline=False,
        minor=dict(tickvals=y_minor, showgrid=True, gridcolor=GRID, gridwidth=2.3, ticks=""))
    shapes.append(dict(type="line", xref="x" + sfx + " domain", yref="y" + sfx,
                       x0=0, x1=1, y0=threshold, y1=threshold, layer="above",
                       line=dict(color="black", width=6, dash="23px,23px")))
    annotations.append(dict(text=facet, x=px(1921), y=py((panel_top[k] + panel_bot[k]) / 2),
                            xref="paper", yref="paper", showarrow=False, textangle=90,
                            xanchor="center", yanchor="middle",
                            font=dict(family=FONT, size=48, color="#1a1a1a")))

# titles
annotations.append(dict(text="p coverage, not conditioned on latent state", x=px(221), y=py(50),
                        xref="paper", yref="paper", showarrow=False, xanchor="left", yanchor="middle",
                        font=dict(family=FONT, size=72, color="black")))
annotations.append(dict(text="p-value", x=px(54), y=py(1176), xref="paper", yref="paper",
                        showarrow=False, textangle=-90, xanchor="center", yanchor="middle",
                        font=dict(family=FONT, size=60, color="black")))
annotations.append(dict(text="rho", x=px(1050), y=py(2337), xref="paper", yref="paper",
                        showarrow=False, xanchor="center", yanchor="middle",
                        font=dict(family=FONT, size=60, color="black")))

# legends (drawn as keys + labels)
KEY_X = 2108.6
LABEL_X = 2188
shape_rows = [("cppp", 973), ("ppp", 1067)]
cov_rows = [("FALSE", 1372), ("TRUE", 1468.5)]
for name, yc in shape_rows:
    if name == "cppp":
        r = 11.5
        shapes.append(dict(type="circle", xref="paper", yref="paper",
                           x0=px(KEY_X - r), x1=px(KEY_X + r), y0=py(yc + r), y1=py(yc - r),
                           fillcolor="black", line=dict(width=0)))
    else:
        hw, hh = 14, 12
        path = "M {} {} L {} {} L {} {} Z".format(px(KEY_X - hw), py(yc + hh), px(KEY_X + hw), py(yc + hh),
                                                  px(KEY_X), py(yc - hh))
        shapes.append(dict(type="path", xref="paper", yref="paper", path=path,
                           fillcolor="black", line=dict(width=0)))
    annotations.append(dict(text=name, x=px(LABEL_X), y=py(yc), xref="paper", yref="paper",
                            showarrow=False, xanchor="left", yanchor="middle",
                            font=dict(family=FONT, size=48, color="black")))
annotations.append(dict(text="coverage", x=px(2062), y=py(1268), xref="paper", yref="paper",
                        showarrow=False, xanchor="left", yanchor="middle",
                        font=dict(family=FONT, size=60, color="black")))
for name, yc in cov_rows:
    r = 12.5
    shapes.append(dict(type="circle", xref="paper", yref="paper",
                       x0=px(KEY_X - r), x1=px(KEY_X + r), y0=py(yc + r), y1=py(yc - r),
                       fillcolor=COL[name], line=dict(width=0)))
    annotations.append(dict(text=name, x=px(LABEL_X), y=py(yc), xref="paper", yref="paper",
                            showarrow=False, xanchor="left", yanchor="middle",
                            font=dict(family=FONT, size=48, color="black")))

layout["shapes"] = shapes
layout["annotations"] = annotations
fig.update_layout(**layout)
fig.write_html("out.html")
